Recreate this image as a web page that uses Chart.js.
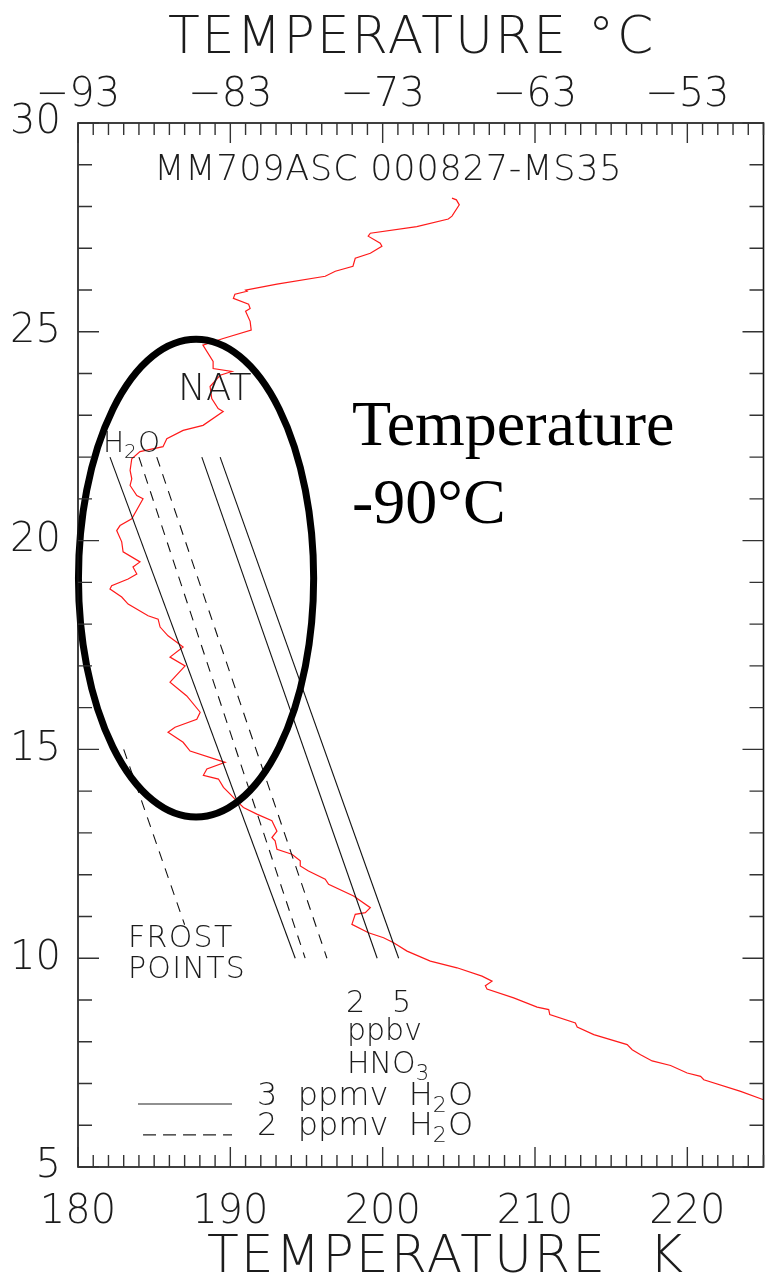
<!DOCTYPE html>
<html>
<head>
<meta charset="utf-8">
<script src="https://cdn.jsdelivr.net/npm/chart.js@4.4.1/dist/chart.umd.min.js"></script>
<style>
  html, body { margin: 0; padding: 0; background: #ffffff; }
  #wrap { width: 765px; height: 1277px; }
</style>
</head>
<body>
<div id="wrap"><canvas id="c" width="765" height="1277"></canvas></div>
<script>
// Balloon temperature sounding, altitude (km) against temperature (K)
const profileTemp = [204.55, 204.84, 205.03, 204.55, 204.31, 202.24, 199.19, 199.05, 199.84, 199.95,
  199.19, 198.20, 198.05, 196.89, 196.23, 193.06, 191.00, 191.10, 190.30, 190.20,
  191.20, 191.30, 191.00, 191.30, 191.37, 189.53, 188.20, 188.87, 188.87, 190.10,
  189.33, 188.67, 188.78, 189.20, 189.53, 188.21, 186.90, 185.83, 185.58, 184.07,
  183.53, 183.42, 183.53, 183.42, 183.86, 184.27, 183.53, 182.76, 182.54, 182.87,
  182.96, 184.07, 183.61, 183.86, 183.29, 182.21, 182.10, 182.87, 183.29, 184.60,
  185.26, 185.39, 185.91, 186.90, 186.04, 187.03, 186.04, 187.14, 188.02, 187.80,
  186.37, 185.91, 186.90, 187.36, 189.66, 188.46, 188.23, 189.22, 189.55, 189.99,
  190.43, 190.86, 191.74, 192.73, 193.06, 192.73, 192.94, 193.06, 194.04, 194.59,
  194.59, 195.13, 196.23, 196.45, 198.09, 199.19, 198.86, 198.20, 197.98, 199.07,
  200.06, 200.72, 201.60, 203.13, 204.88, 206.52, 207.18, 206.74, 206.85, 208.60,
  210.14, 210.90, 210.97, 212.65, 212.77, 213.86, 216.05, 216.38, 216.93, 217.69,
  218.90, 219.99, 220.87, 221.08, 223.50, 225.00];
const profileAlt = [28.20, 28.16, 28.04, 27.77, 27.70, 27.52, 27.36, 27.29, 27.12, 27.05,
  26.88, 26.76, 26.57, 26.45, 26.33, 26.14, 26.00, 25.97, 25.90, 25.80,
  25.66, 25.56, 25.49, 25.25, 25.04, 24.84, 24.68, 24.29, 24.12, 24.05,
  23.96, 23.69, 23.40, 23.16, 23.09, 22.76, 22.64, 22.44, 22.25, 22.13,
  21.96, 21.68, 21.48, 21.32, 21.08, 21.00, 20.52, 20.36, 20.24, 19.97,
  19.73, 19.49, 19.37, 19.20, 19.08, 18.92, 18.84, 18.65, 18.48, 18.20,
  18.12, 17.93, 17.72, 17.45, 17.21, 17.00, 16.61, 16.28, 15.89, 15.72,
  15.53, 15.41, 15.17, 14.96, 14.69, 14.53, 14.38, 14.29, 14.09, 13.93,
  13.76, 13.61, 13.45, 13.29, 13.04, 12.89, 12.81, 12.61, 12.49, 12.33,
  12.21, 12.09, 11.89, 11.77, 11.49, 11.21, 11.09, 11.05, 10.81, 10.61,
  10.49, 10.37, 10.17, 9.93, 9.77, 9.57, 9.45, 9.34, 9.26, 9.05,
  8.83, 8.77, 8.65, 8.45, 8.35, 8.17, 7.93, 7.81, 7.69, 7.54,
  7.43, 7.25, 7.17, 7.09, 6.81, 6.61];

// Condensation lines: altitude span and temperature at each end
const lineAlt = [22, 10];
const iceFrost3ppmv = [182.10, 194.26];
const nat2ppmv2ppbv = [184.00, 194.91];
const nat2ppmv5ppbv = [185.17, 196.34];
const nat3ppmv2ppbv = [188.13, 199.64];
const nat3ppmv5ppbv = [189.33, 201.05];
const frostPointAlt = [15.0, 10.8];
const frostPointTemp = [183.0, 187.0];

// Axis ticks
const kelvinTicks = [180, 190, 200, 210, 220];
const celsiusLabels = ['\u221293', '\u221283', '\u221273', '\u221263', '\u221253'];
const altitudeTicks = [5, 10, 15, 20, 25, 30];

const FONT = "'DejaVu Sans', sans-serif";
const INK = '#1c1c1c';

const pairs = (xs, ys) => xs.map((x, i) => ({ x: x, y: ys[i] }));

function segment(temps, color, dash) {
  return {
    data: pairs(temps, lineAlt),
    borderColor: color, borderWidth: 1.1, borderDash: dash || [],
    pointRadius: 0, showLine: true, fill: false, tension: 0
  };
}

// Draws text with optional subscripts: parts = [[text, isSub], ...]
function chem(ctx, parts, x, y, size) {
  let cx = x;
  parts.forEach(([s, sub]) => {
    const fs = sub ? Math.round(size * 0.7) : size;
    ctx.font = '200 ' + fs + 'px ' + FONT;
    ctx.fillText(s, cx, sub ? y + size * 0.22 : y);
    cx += ctx.measureText(s).width + (sub ? size * 0.04 : 0);
  });
}

function spaced(ctx, s, x, y, spacing) {
  ctx.letterSpacing = spacing + 'px';
  ctx.fillText(s, x, y);
  ctx.letterSpacing = '0px';
}

const decorations = {
  id: 'decorations',
  afterDatasetsDraw(chart) {
    const ctx = chart.ctx;
    const xs = chart.scales.x, ys = chart.scales.y;
    const px = v => xs.getPixelForValue(v);
    const py = v => ys.getPixelForValue(v);
    const a = chart.chartArea;
    ctx.save();

    // Highlight ring round the cold pool
    ctx.beginPath();
    ctx.ellipse(px(187.75), py(19.1), px(187.75 + 7.72) - px(187.75), py(19.1 - 5.72) - py(19.1), 0, 0, Math.PI * 2);
    ctx.lineWidth = 7;
    ctx.strokeStyle = '#000';
    ctx.stroke();

    // Frame
    ctx.strokeStyle = '#111';
    ctx.lineWidth = 1.6;
    ctx.strokeRect(a.left, a.top, a.right - a.left, a.bottom - a.top);

    // Inward ticks on all four sides
    ctx.lineWidth = 1.4;
    ctx.strokeStyle = '#333';
    ctx.beginPath();
    for (let k = 180; k <= 225; k++) {
      const len = k % 10 === 0 ? 20 : 12;
      const x = px(k);
      ctx.moveTo(x, a.bottom); ctx.lineTo(x, a.bottom - len);
      ctx.moveTo(x, a.top); ctx.lineTo(x, a.top + len);
    }
    for (let z = 5; z <= 30; z++) {
      const len = z % 5 === 0 ? 21 : 14;
      const y = py(z);
      ctx.moveTo(a.left, y); ctx.lineTo(a.left + len, y);
      ctx.moveTo(a.right, y); ctx.lineTo(a.right - len, y);
    }
    ctx.stroke();

    // Labels inside the plot
    ctx.fillStyle = INK;
    ctx.textAlign = 'left';
    ctx.textBaseline = 'alphabetic';
    ctx.font = '200 35px ' + FONT;
    spaced(ctx, 'MM709ASC 000827-MS35', px(185.0), py(28.64), 0.8);
    ctx.font = '200 37px ' + FONT;
    spaced(ctx, 'NAT', px(186.56), py(23.37), 0.5);
    chem(ctx, [['H', false], ['2', true], ['O', false]], px(181.64), py(22.12), 28);
    ctx.font = '200 30px ' + FONT;
    spaced(ctx, 'FROST', px(183.28), py(10.27), 1.3);
    spaced(ctx, 'POINTS', px(183.28), py(9.53), 1.3);
    ctx.fillText('2', px(197.59), py(8.71));
    ctx.fillText('5', px(200.61), py(8.71));
    ctx.fillText('ppbv', px(197.66), py(8.04));
    chem(ctx, [['HNO', false], ['3', true]], px(197.66), py(7.25), 30);

    // Line-style key
    ctx.strokeStyle = '#222';
    ctx.lineWidth = 1.1;
    ctx.beginPath();
    ctx.moveTo(px(183.94), py(6.51)); ctx.lineTo(px(190.11), py(6.51));
    ctx.stroke();
    ctx.setLineDash([13, 7]);
    ctx.beginPath();
    ctx.moveTo(px(184.27), py(5.77)); ctx.lineTo(px(190.11), py(5.77));
    ctx.stroke();
    ctx.setLineDash([]);
    chem(ctx, [['3  ppmv  H', false], ['2', true], ['O', false]], px(191.75), py(6.48), 32);
    chem(ctx, [['2  ppmv  H', false], ['2', true], ['O', false]], px(191.75), py(5.77), 32);

    // Callout
    ctx.fillStyle = '#000';
    ctx.font = '64px "Liberation Serif", "Times New Roman", serif';
    ctx.fillText('Temperature', px(197.99), py(22.29));
    ctx.fillText('-90\u00B0C', px(197.99), py(20.42));

    // Axis titles
    ctx.fillStyle = INK;
    ctx.font = '200 52px ' + FONT;
    spaced(ctx, 'TEMPERATURE', 168, 53, 2.0);
    spaced(ctx, '\u00B0C', 588, 53, 3.0);
    spaced(ctx, 'TEMPERATURE', 207, 1272, 2.0);
    ctx.fillText('K', 649, 1272);
    ctx.restore();
  }
};

const tickFont = { family: FONT, size: 40, weight: '200' };

new Chart(document.getElementById('c'), {
  type: 'scatter',
  data: {
    datasets: [
      segment(iceFrost3ppmv, '#111'),
      segment(nat2ppmv2ppbv, '#111', [10, 8]),
      segment(nat2ppmv5ppbv, '#111', [10, 8]),
      segment(nat3ppmv2ppbv, '#111'),
      segment(nat3ppmv5ppbv, '#111'),
      {
        data: pairs(frostPointTemp, frostPointAlt),
        borderColor: '#111', borderWidth: 1.1, borderDash: [10, 8],
        pointRadius: 0, showLine: true, fill: false, tension: 0
      },
      {
        data: pairs(profileTemp, profileAlt),
        borderColor: '#ff1a1a', borderWidth: 1.2,
        pointRadius: 0, showLine: true, fill: false, tension: 0
      }
    ]
  },
  options: {
    responsive: false,
    animation: false,
    devicePixelRatio: 1,
    layout: { padding: { left: 0, right: 1.5, top: 0, bottom: 0 } },
    plugins: { legend: { display: false }, tooltip: { enabled: false }, title: { display: false } },
    scales: {
      x: {
        type: 'linear', position: 'bottom', min: 180, max: 225,
        afterBuildTicks: s => { s.ticks = kelvinTicks.map(v => ({ value: v })); },
        ticks: { font: tickFont, color: INK, padding: 14, maxRotation: 0, autoSkip: false },
        grid: { display: false }, border: { display: false },
        afterFit: s => { s.height = 110; }
      },
      xTop: {
        type: 'linear', position: 'top', min: 180, max: 225,
        afterBuildTicks: s => { s.ticks = kelvinTicks.map(v => ({ value: v })); },
        ticks: { font: tickFont, color: INK, padding: -5, maxRotation: 0, autoSkip: false,
                 callback: (v, i) => celsiusLabels[i] },
        grid: { display: false }, border: { display: false },
        afterFit: s => { s.height = 123; }
      },
      y: {
        type: 'linear', position: 'left', min: 5, max: 30,
        afterBuildTicks: s => { s.ticks = altitudeTicks.map(v => ({ value: v })); },
        ticks: { font: tickFont, color: INK, padding: 9, autoSkip: false },
        grid: { display: false }, border: { display: false },
        afterFit: s => { s.width = 78; }
      }
    }
  },
  plugins: [decorations]
});
</script>
</body>
</html>
